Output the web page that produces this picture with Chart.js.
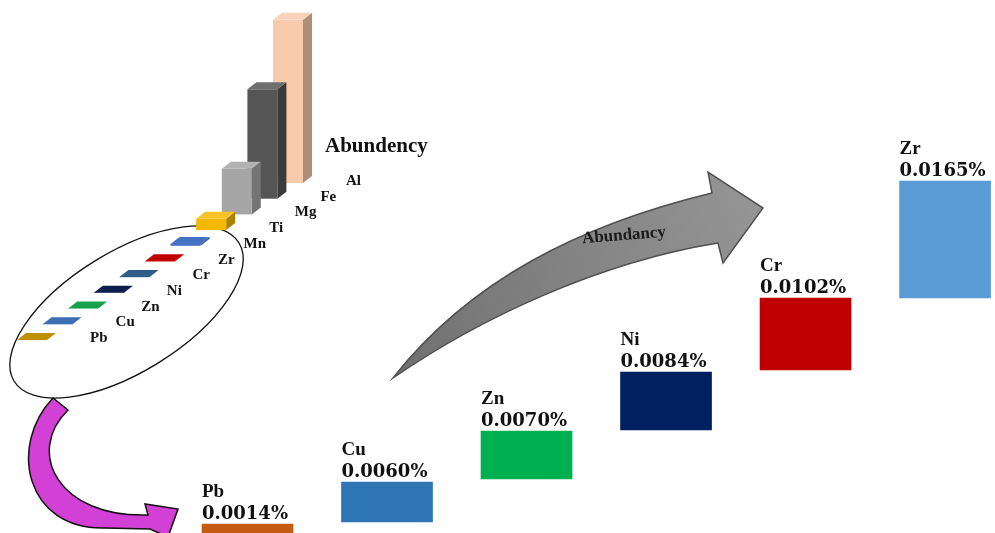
<!DOCTYPE html>
<html>
<head>
<meta charset="utf-8">
<script src="https://cdn.jsdelivr.net/npm/chart.js@4.4.1/dist/chart.umd.min.js"></script>
<style>
html, body { margin: 0; padding: 0; background: #fff; overflow: hidden; }
#wrap { position: relative; width: 995px; height: 533px; }
.box { position: absolute; left: 0; top: 0; }
</style>
</head>
<body>
<div id="wrap">
  <div class="box" style="width:995px;height:533px"><canvas id="mainChart"></canvas></div>
  <div class="box" style="width:460px;height:360px"><canvas id="crustChart"></canvas></div>
</div>
<script>
// trace elements (big step chart)
const traceElements = ["Pb", "Cu", "Zn", "Ni", "Cr", "Zr"];
const traceAbundance = [0.0014, 0.0060, 0.0070, 0.0084, 0.0102, 0.0165];
// floating step of each block (arbitrary level units)
const stepLow = [0, 11, 54, 103, 163, 235];
const stepHigh = [9, 51, 102, 161, 235, 352];
const traceColors = ["#c55a11", "#2e75b6", "#00b050", "#002060", "#c00000", "#5b9bd5"];

// crust abundance (small 3d chart, %)
const crustElements = ["Pb", "Cu", "Zn", "Ni", "Cr", "Zr", "Mn", "Ti", "Mg", "Fe", "Al"];
const crustAbundance = [0.0014, 0.006, 0.007, 0.0084, 0.0102, 0.0165, 0.095, 0.57, 2.3, 5.5, 8.2];
const crustColors = ["#bf9000", "#3d6db5", "#17a04c", "#0c1f4d", "#2f5d8a", "#c00000", "#4472c4",
                     "#f5b800", "#a6a6a6", "#555555", "#f8cbad"];

function shade(hex, amt) {
    const n = parseInt(hex.slice(1), 16);
    let r = (n >> 16) & 255, g = (n >> 8) & 255, b = n & 255;
    const f = c => Math.max(0, Math.min(255, Math.round(amt < 0 ? c * (1 + amt) : c + (255 - c) * amt)));
    return "rgb(" + f(r) + "," + f(g) + "," + f(b) + ")";
}

// ---------- main chart decorations ----------
const decorPlugin = {
    id: "decor",
    beforeDatasetsDraw(chart) {
        const ctx = chart.ctx;
        ctx.save();

        // ellipse round the small values
        ctx.beginPath();
        ctx.ellipse(126.5, 312, 132, 60, -0.552, 0, Math.PI * 2);
        ctx.strokeStyle = "#111";
        ctx.lineWidth = 1.3;
        ctx.stroke();

        // magenta curved arrow
        ctx.beginPath();
        ctx.moveTo(53, 398);
        ctx.bezierCurveTo(8, 445, 25, 530, 105, 528);
        ctx.lineTo(150, 529);
        ctx.lineTo(168, 537);
        ctx.lineTo(178, 509);
        ctx.lineTo(145, 504);
        ctx.lineTo(148, 515);
        ctx.bezierCurveTo(58, 518, 25, 452, 68, 410);
        ctx.closePath();
        ctx.fillStyle = "#d340d6";
        ctx.fill();
        ctx.strokeStyle = "#111";
        ctx.lineWidth = 1.5;
        ctx.stroke();

        // grey "Abundancy" arrow
        const grad = ctx.createLinearGradient(393, 378, 763, 208);
        grad.addColorStop(0, "#707070");
        grad.addColorStop(1, "#959595");
        ctx.beginPath();
        ctx.moveTo(393, 378);
        ctx.bezierCurveTo(470, 280, 580, 225, 712, 193);
        ctx.lineTo(708, 172);
        ctx.lineTo(763, 208);
        ctx.lineTo(723, 263);
        ctx.lineTo(718, 243);
        ctx.bezierCurveTo(600, 262, 480, 318, 393, 378);
        ctx.closePath();
        ctx.fillStyle = grad;
        ctx.fill();
        ctx.strokeStyle = "#505050";
        ctx.lineWidth = 1.5;
        ctx.stroke();

        ctx.translate(624, 236);
        ctx.rotate(-0.08);
        ctx.font = "bold 17px 'Liberation Serif'";
        ctx.fillStyle = "#1a1a1a";
        ctx.textAlign = "center";
        ctx.textBaseline = "alphabetic";
        ctx.fillText("Abundancy", 0, 4);
        ctx.restore();
    },
    afterDatasetsDraw(chart) {
        const ctx = chart.ctx;
        const meta = chart.getDatasetMeta(0);
        ctx.save();
        ctx.fillStyle = "#111";
        ctx.textAlign = "left";
        ctx.textBaseline = "alphabetic";
        meta.data.forEach((el, i) => {
            const left = el.x - el.width / 2;
            ctx.font = "bold 19px 'Liberation Serif'";
            ctx.fillText(traceElements[i], left, el.y - 27);
            ctx.font = "bold 18px 'DejaVu Serif'";
            ctx.fillText(traceAbundance[i].toFixed(4) + "%", left, el.y - 5);
        });
        ctx.restore();
    }
};

new Chart(document.getElementById("mainChart"), {
    type: "bar",
    data: {
        datasets: [{
            data: traceElements.map((e, i) => ({ x: i, y: [stepLow[i], stepHigh[i]] })),
            backgroundColor: traceColors,
            borderWidth: 0,
            barThickness: 91
        }]
    },
    options: {
        responsive: true,
        maintainAspectRatio: false,
        animation: false,
        layout: { padding: 0 },
        plugins: { legend: { display: false }, tooltip: { enabled: false } },
        scales: {
            x: { type: "linear", min: -1.774, max: 5.358, offset: false, display: false },
            y: { min: 0, max: 533, display: false }
        }
    },
    plugins: [decorPlugin]
});

// ---------- small 3d chart ----------
const depthRise = 15.7;   // each category sits this much higher (perspective)
const depthX = 9, depthY = -7;

const boxPlugin = {
    id: "box3d",
    afterDatasetsDraw(chart) {
        const ctx = chart.ctx;
        const meta = chart.getDatasetMeta(0);
        ctx.save();
        for (let i = meta.data.length - 1; i >= 0; i--) {
            const el = meta.data[i];
            const lift = i * depthRise;
            const x0 = el.x - el.width / 2, x1 = el.x + el.width / 2;
            const yT = el.y - lift, yB = el.base - lift;
            const c = crustColors[i];
            // side face
            ctx.beginPath();
            ctx.moveTo(x1, yT); ctx.lineTo(x1 + depthX, yT + depthY);
            ctx.lineTo(x1 + depthX, yB + depthY); ctx.lineTo(x1, yB);
            ctx.closePath();
            ctx.fillStyle = shade(c, -0.3);
            ctx.fill();
            // front face
            ctx.fillStyle = c;
            ctx.fillRect(x0, yT, el.width, yB - yT);
            // top face
            ctx.beginPath();
            ctx.moveTo(x0, yT); ctx.lineTo(x1, yT);
            ctx.lineTo(x1 + depthX, yT + depthY); ctx.lineTo(x0 + depthX, yT + depthY);
            ctx.closePath();
            ctx.fillStyle = yB - yT < 2 ? c : shade(c, 0.15);
            ctx.fill();
        }
        // category labels
        ctx.fillStyle = "#111";
        ctx.font = "bold 15px 'Liberation Serif'";
        ctx.textAlign = "left";
        meta.data.forEach((el, i) => {
            ctx.fillText(crustElements[i], el.x + 58, el.base - i * depthRise + 2);
        });
        ctx.font = "bold 21px 'Liberation Serif'";
        ctx.fillText("Abundency", 325, 152);
        ctx.restore();
    }
};

new Chart(document.getElementById("crustChart"), {
    type: "bar",
    data: {
        labels: crustElements,
        datasets: [{
            data: crustAbundance,
            backgroundColor: "rgba(0,0,0,0)",
            borderWidth: 0,
            barThickness: 30
        }]
    },
    options: {
        responsive: true,
        maintainAspectRatio: false,
        animation: false,
        layout: { padding: { left: 19.2, right: 159.2, top: 0, bottom: 20 } },
        plugins: { legend: { display: false }, tooltip: { enabled: false } },
        scales: {
            x: { display: false },
            y: { min: 0, max: 17.09, display: false }
        }
    },
    plugins: [boxPlugin]
});
</script>
</body>
</html>
